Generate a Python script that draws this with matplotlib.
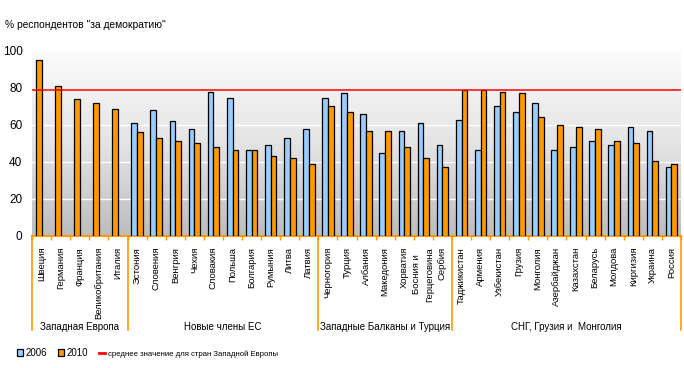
import matplotlib.pyplot as plt
import numpy as np
from matplotlib.patches import Patch
from matplotlib.lines import Line2D
from matplotlib.colors import LinearSegmentedColormap

plt.rcParams['font.family'] = ['Liberation Sans', 'DejaVu Sans']

countries = ["Швеция", "Германия", "Франция", "Великобритания", "Италия",
             "Эстония", "Словения", "Венгрия", "Чехия", "Словакия", "Польша",
             "Болгария", "Румыния", "Литва", "Латвия",
             "Черногория", "Турция", "Албания", "Македония", "Хорватия",
             "Босния и\nГерцеговина", "Сербия",
             "Таджикистан", "Армения", "Узбекистан", "Грузия", "Монголия",
             "Азербайджан", "Казахстан", "Беларусь", "Молдова", "Киргизия",
             "Украина", "Россия"]
groups = ["Западная Европа", "Новые члены ЕС", "Западные Балканы и Турция",
          "СНГ, Грузия и  Монголия"]
group_sizes = [5, 10, 7, 12]

v2006 = [np.nan, np.nan, np.nan, np.nan, np.nan,
         61, 68, 62, 57.5, 78, 74.5, 46.5, 49, 53, 57.5,
         74.5, 77, 66, 45, 56.5, 61, 49,
         62.5, 46.5, 70, 67, 72, 46.5, 48, 51, 49, 59, 56.5, 37]
v2010 = [95, 81, 74, 72, 68.5,
         56, 53, 51.5, 50, 48, 46.5, 46.5, 43, 42, 39,
         70, 67, 56.5, 56.5, 48, 42, 37,
         79, 79, 78, 77, 64, 60, 59, 57.5, 51, 50, 40.5, 39]
west_avg = 79

fig, ax = plt.subplots(figsize=(6.84, 3.68), dpi=100)
fig.subplots_adjust(left=0.047, right=0.9956, bottom=0.359, top=0.862)

# gradient background
cmap = LinearSegmentedColormap.from_list("bg", ["#bdbdbd", "#e4e4e4", "#fbfbfb"])
grad = np.linspace(0, 1, 256).reshape(-1, 1)
ax.imshow(grad, cmap=cmap, origin="lower", aspect="auto",
          extent=[0, 1, 0, 1], transform=ax.transAxes, zorder=0)

x = np.arange(len(countries))
w = 0.3
a06 = np.array(v2006, dtype=float)
off10 = np.where(np.isnan(a06), -w / 2, w / 2)
ax.bar(x - w / 2, np.nan_to_num(a06), w, color="#99ccff", edgecolor="black",
       linewidth=0.9, zorder=3)
ax.bar(x + off10, v2010, w, color="#ff9900", edgecolor="black",
       linewidth=0.9, zorder=3)

for yv in [20, 40, 60]:
    ax.axhline(yv, color="white", linewidth=1, zorder=1)
ax.axhline(west_avg, color="red", linewidth=1.1, zorder=4)

ax.set_xlim(-0.5, len(countries) - 0.5)
ax.set_ylim(0, 100)
ax.set_yticks([0, 20, 40, 60, 80, 100])
ax.tick_params(axis="y", length=0, pad=7, labelsize=8.5)
ax.set_xticks(x)
ax.set_xticklabels(countries, rotation=90, fontsize=6.8, va="top", ha="center",
                   linespacing=1.6)
ax.tick_params(axis="x", which="major", length=0, pad=8)
ax.set_xticks(np.arange(-0.5, len(countries), 1), minor=True)
ax.tick_params(axis="x", which="minor", length=3, width=1, color="#ff9900")
for s in ["top", "left", "right"]:
    ax.spines[s].set_visible(False)
ax.spines["bottom"].set_color("#ff9900")
ax.spines["bottom"].set_linewidth(1.5)

# group separators and labels
bounds = np.concatenate([[0], np.cumsum(group_sizes)]) - 0.5
trans = ax.get_xaxis_transform()
for b in bounds:
    ax.plot([b, b], [0, -0.51], color="#ff9900", linewidth=1.2,
            transform=trans, clip_on=False)
for name, lo, hi in zip(groups, bounds[:-1], bounds[1:]):
    ax.text((lo + hi) / 2, -0.49, name, transform=trans, ha="center",
            va="center", fontsize=7)

fig.text(0.007, 0.932, '% респондентов "за демократию"', fontsize=7.4,
         ha="left", va="center")

handles = [Patch(facecolor="#99ccff", edgecolor="black", linewidth=0.9),
           Patch(facecolor="#ff9900", edgecolor="black", linewidth=0.9),
           Line2D([], [], color="red", linewidth=2)]
leg = fig.legend(handles, ["2006", "2010", "среднее значение для стран Западной Европы"],
                 loc="center left", bbox_to_anchor=(0.018, 0.04), ncol=3,
                 frameon=False, fontsize=7, handlelength=0.6, handleheight=0.7,
                 handletextpad=0.3, columnspacing=1.1, borderpad=0)
leg.get_texts()[2].set_fontsize(5.6)

fig.savefig("out.png", dpi=100)
